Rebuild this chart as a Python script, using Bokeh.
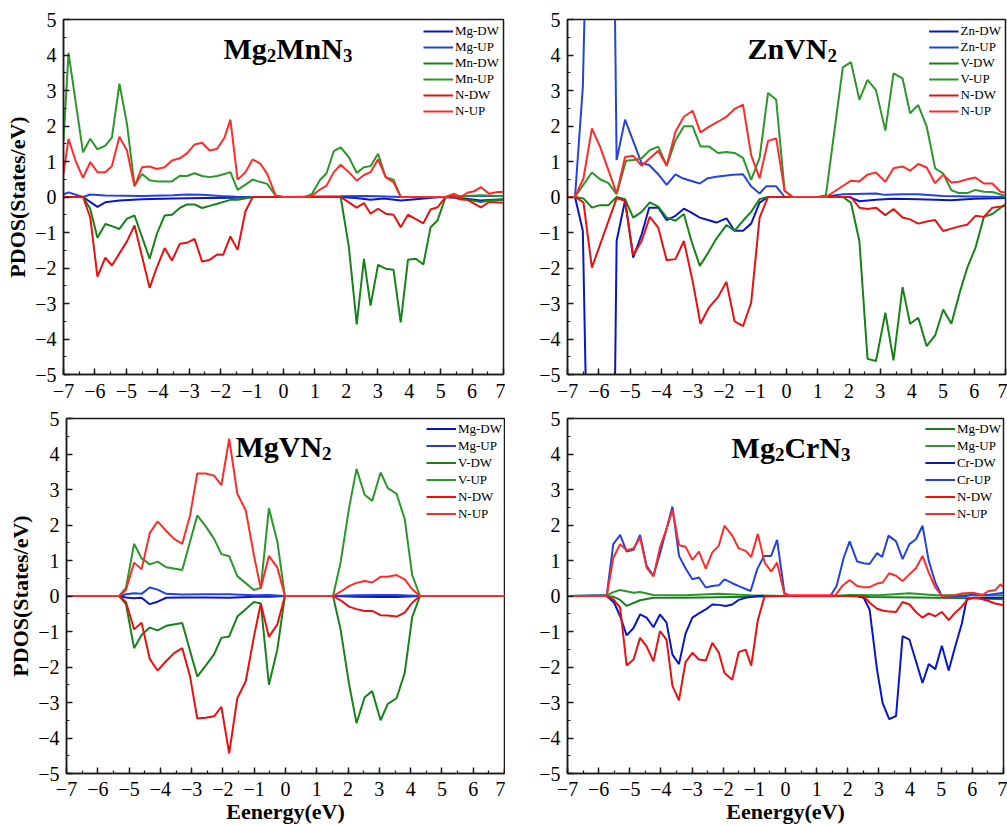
from bokeh.plotting import figure
from bokeh.models import Range1d, SingleIntervalTicker, Label, Legend, LegendItem
from bokeh.layouts import column, row
from bokeh.embed import file_html
from bokeh.resources import INLINE

FONT = "Liberation Serif"

# ---------------- data: (energy eV, PDOS states/eV) ----------------
# Panel 1: Mg2MnN3
mnn_mg_dw = [(-7, 0.0), (-6.38, 0.0), (-5.92, -0.28), (-5.67, -0.15), (-5.22, -0.10), (-4.5, -0.06), (-3.5, -0.04),
             (-2.5, -0.03), (-1.6, -0.02), (-1.0, 0.0), (0, 0), (1.8, 0.0), (2.3, -0.03), (2.77, -0.08), (3.2, -0.04),
             (3.73, -0.10), (4.2, -0.06), (5.0, 0.0), (5.6, -0.03), (6.28, -0.10), (7, -0.06)]
mnn_mg_up = [(-7, 0.07), (-6.84, 0.13), (-6.38, 0.0), (-6.15, 0.07), (-5.67, 0.04), (-4.5, 0.03), (-3.5, 0.05),
             (-3.07, 0.07), (-2.6, 0.06), (-2.0, 0.03), (-1.5, 0.01), (-1.0, 0.0), (0, 0), (1.8, 0.02), (2.56, 0.03),
             (3.0, 0.02), (3.73, 0.0), (5.2, 0.0), (6.0, 0.03), (7, 0.03)]
mnn_mn_dw = [(-7, 0), (-6.38, 0), (-6.15, -0.33), (-5.92, -1.15), (-5.67, -0.76), (-5.46, -0.82), (-5.22, -0.90),
             (-4.98, -0.61), (-4.74, -0.52), (-4.26, -1.74), (-4.03, -1.04), (-3.78, -0.52), (-3.55, -0.50),
             (-3.30, -0.31), (-3.07, -0.21), (-2.83, -0.21), (-2.59, -0.31), (-2.35, -0.25), (-2.11, -0.19),
             (-1.88, -0.13), (-1.69, -0.08), (-1.46, -0.08), (-0.98, 0), (1.82, 0), (2.08, -1.41), (2.33, -3.59),
             (2.56, -1.74), (2.77, -3.06), (3.01, -1.91), (3.25, -2.02), (3.50, -2.05), (3.73, -3.53), (3.96, -1.77),
             (4.21, -1.74), (4.45, -1.90), (4.68, -0.85), (4.90, -0.66), (5.16, 0), (5.43, 0.03), (5.64, -0.05),
             (6.0, -0.10), (6.28, -0.14), (6.54, -0.10), (7, -0.08)]
mnn_mn_up = [(-7, 1.6), (-6.84, 4.06), (-6.38, 1.26), (-6.15, 1.64), (-5.92, 1.34), (-5.67, 1.45), (-5.46, 1.67),
             (-5.22, 3.19), (-4.98, 2.06), (-4.74, 0.32), (-4.50, 0.65), (-4.26, 0.47), (-4.03, 0.44), (-3.55, 0.44),
             (-3.30, 0.60), (-3.07, 0.59), (-2.83, 0.67), (-2.59, 0.59), (-2.35, 0.56), (-2.11, 0.59), (-1.88, 0.65),
             (-1.69, 0.70), (-1.46, 0.20), (-1.21, 0.35), (-0.98, 0.49), (-0.73, 0.42), (-0.52, 0.37), (-0.25, 0.04),
             (0, 0), (0.70, 0), (0.91, 0.09), (1.16, 0.48), (1.37, 0.67), (1.60, 1.29), (1.82, 1.40), (2.08, 1.12),
             (2.33, 0.68), (2.56, 0.84), (2.77, 0.87), (3.01, 1.22), (3.25, 0.56), (3.50, 0.49), (3.73, 0.0),
             (5.16, 0.0), (5.64, 0.02), (6.28, 0.05), (7, 0.02)]
mnn_n_dw = [(-7, 0), (-6.38, 0), (-6.15, -0.57), (-5.92, -2.24), (-5.67, -1.71), (-5.46, -1.93), (-4.98, -1.25),
            (-4.74, -0.80), (-4.26, -2.56), (-4.03, -1.98), (-3.78, -1.44), (-3.55, -1.79), (-3.30, -1.32),
            (-3.07, -1.29), (-2.83, -1.18), (-2.59, -1.82), (-2.35, -1.77), (-2.11, -1.62), (-1.92, -1.63),
            (-1.69, -1.11), (-1.46, -1.49), (-1.21, -0.40), (-0.98, 0), (1.82, 0), (2.08, -0.15), (2.33, -0.30),
            (2.56, -0.17), (2.77, -0.47), (3.01, -0.33), (3.25, -0.47), (3.50, -0.50), (3.73, -0.85), (3.96, -0.50),
            (4.21, -0.62), (4.45, -0.74), (4.68, -0.35), (4.90, -0.29), (5.16, 0), (5.43, 0), (5.64, -0.07),
            (5.85, -0.08), (6.28, -0.29), (6.54, -0.14), (7, -0.16)]
mnn_n_up = [(-7, 0.65), (-6.84, 1.64), (-6.6, 0.98), (-6.38, 0.54), (-6.15, 0.98), (-5.92, 0.70), (-5.67, 0.70),
            (-5.46, 0.87), (-5.22, 1.70), (-4.98, 1.31), (-4.74, 0.30), (-4.50, 0.84), (-4.26, 0.86), (-4.03, 0.79),
            (-3.78, 0.84), (-3.55, 1.03), (-3.30, 1.09), (-3.07, 1.23), (-2.83, 1.48), (-2.59, 1.53), (-2.35, 1.31),
            (-2.11, 1.36), (-1.88, 1.67), (-1.69, 2.18), (-1.46, 0.49), (-1.21, 0.70), (-0.98, 1.06), (-0.73, 0.93),
            (-0.52, 0.65), (-0.25, 0.04), (0, 0), (0.70, 0), (0.91, 0.04), (1.16, 0.21), (1.37, 0.32), (1.60, 0.70),
            (1.82, 0.91), (2.08, 0.70), (2.33, 0.46), (2.56, 0.62), (2.77, 0.70), (3.01, 1.06), (3.25, 0.56),
            (3.50, 0.42), (3.73, 0), (5.16, 0), (5.43, 0.09), (5.64, 0), (5.85, 0.12), (6.07, 0.16), (6.28, 0.28),
            (6.54, 0.09), (6.81, 0.14), (7, 0.14)]

# Panel 2: ZnVN2
zvn_zn_dw = [(-7, 0), (-6.76, 0), (-6.51, -0.95), (-6.27, -12), (-6.02, -17), (-5.67, -20), (-5.43, -1.24),
             (-5.16, -0.10), (-4.90, -1.71), (-4.63, -1.05), (-4.39, -0.30), (-4.10, -0.30), (-3.83, -0.65),
             (-3.55, -0.53), (-3.28, -0.33), (-3.04, -0.44), (-2.77, -0.58), (-2.51, -0.65), (-2.24, -0.72),
             (-1.92, -0.60), (-1.66, -0.95), (-1.39, -0.95), (-1.13, -0.75), (-0.86, -0.16), (-0.59, 0), (2.0, 0),
             (2.33, -0.12), (2.86, -0.08), (3.42, -0.05), (4.21, -0.06), (5.27, -0.09), (6.0, -0.05), (7, -0.03)]
zvn_zn_up = [(-7, 0), (-6.76, 0), (-6.51, 3.1), (-6.27, 12), (-6.02, 17), (-5.67, 20), (-5.43, 1.04), (-5.16, 2.18),
             (-4.63, 0.95), (-4.39, 0.90), (-4.10, 0.64), (-3.83, 0.34), (-3.55, 0.64), (-3.30, 0.52), (-2.77, 0.38),
             (-2.51, 0.53), (-2.24, 0.57), (-1.71, 0.63), (-1.39, 0.64), (-1.13, 0.30), (-0.86, 0.10), (-0.65, 0.30),
             (-0.33, 0.30), (-0.06, 0), (1.16, 0), (1.8, 0.08), (2.86, 0.10), (3.16, 0.06), (3.71, 0.08), (4.21, 0.08),
             (5.0, 0.03), (7, 0.0)]
zvn_v_dw = [(-7, 0), (-6.76, 0), (-6.49, -0.04), (-6.22, -0.30), (-5.96, -0.23), (-5.69, -0.23), (-5.43, 0),
            (-5.16, -0.06), (-4.90, -0.58), (-4.63, -0.42), (-4.37, -0.15), (-4.10, -0.27), (-3.83, -0.58),
            (-3.55, -0.67), (-3.28, -0.48), (-3.04, -1.24), (-2.77, -1.94), (-2.51, -1.58), (-2.24, -1.17),
            (-1.92, -0.79), (-1.66, -0.95), (-1.39, -0.67), (-1.13, -0.42), (-0.86, -0.06), (-0.59, 0), (1.80, 0),
            (2.06, -0.16), (2.33, -1.24), (2.59, -4.56), (2.86, -4.62), (3.16, -3.26), (3.42, -4.60), (3.71, -2.54),
            (3.95, -3.57), (4.21, -3.40), (4.48, -4.20), (4.75, -3.90), (5.01, -3.17), (5.27, -3.57), (5.55, -2.65),
            (5.78, -1.99), (6.04, -1.43), (6.31, -0.56), (6.58, -0.48), (7, -0.20)]
zvn_v_up = [(-7, 0), (-6.76, 0), (-6.22, 0.69), (-5.96, 0.50), (-5.69, 0.39), (-5.43, 0.08), (-5.13, 1.02),
            (-4.90, 1.04), (-4.63, 1.09), (-4.37, 1.32), (-4.10, 1.42), (-3.83, 0.88), (-3.55, 1.59), (-3.28, 1.99),
            (-3.00, 1.99), (-2.75, 1.42), (-2.47, 1.42), (-2.19, 1.24), (-1.92, 1.27), (-1.66, 1.24), (-1.39, 1.10),
            (-1.13, 0.48), (-0.86, 1.10), (-0.59, 2.93), (-0.33, 2.74), (-0.06, 0.18), (0.20, 0), (1.00, 0),
            (1.26, 0.05), (1.80, 3.65), (2.06, 3.80), (2.33, 2.74), (2.59, 3.30), (2.86, 3.01), (3.16, 1.87),
            (3.42, 3.48), (3.71, 3.34), (3.95, 2.36), (4.21, 2.59), (4.48, 1.99), (4.75, 0.81), (5.01, 0.66),
            (5.27, 0.19), (5.51, 0.11), (5.78, 0.11), (6.04, 0.20), (6.31, 0.15), (6.58, 0.14), (7, 0.03)]
zvn_n_dw = [(-7, 0), (-6.76, 0), (-6.49, -0.15), (-6.22, -1.99), (-5.43, -0.03), (-5.16, -0.11), (-4.90, -1.64),
            (-4.63, -1.24), (-4.37, -0.56), (-4.10, -0.86), (-3.83, -1.78), (-3.55, -1.75), (-3.28, -1.24),
            (-3.00, -2.37), (-2.75, -3.57), (-2.47, -3.10), (-2.19, -2.82), (-1.92, -2.39), (-1.66, -3.50),
            (-1.39, -3.64), (-1.13, -2.98), (-0.86, -0.58), (-0.59, 0), (2.06, 0), (2.33, -0.30), (2.59, -0.34),
            (2.86, -0.30), (3.16, -0.51), (3.42, -0.34), (3.71, -0.58), (3.95, -0.63), (4.21, -0.75), (4.48, -0.69),
            (4.75, -0.65), (5.01, -0.96), (5.27, -0.89), (5.55, -0.82), (5.78, -0.78), (6.04, -0.53), (6.31, -0.56),
            (6.58, -0.30), (7, -0.25)]
zvn_n_up = [(-7, 0), (-6.76, 0), (-6.49, 0.52), (-6.22, 1.93), (-5.96, 1.42), (-5.43, 0.10), (-5.16, 1.13),
            (-4.90, 1.16), (-4.63, 0.88), (-4.37, 1.09), (-4.10, 1.30), (-3.83, 0.88), (-3.55, 1.84), (-3.28, 2.26),
            (-3.00, 2.43), (-2.75, 1.82), (-2.47, 1.98), (-2.19, 2.12), (-1.92, 2.26), (-1.66, 2.48), (-1.39, 2.60),
            (-1.13, 1.18), (-0.86, 0.53), (-0.59, 1.58), (-0.33, 1.65), (-0.06, 0.17), (0.20, 0), (1.26, 0),
            (1.80, 0.31), (2.06, 0.46), (2.33, 0.44), (2.59, 0.63), (2.86, 0.69), (3.16, 0.43), (3.42, 0.81),
            (3.71, 0.86), (3.95, 0.74), (4.21, 0.93), (4.48, 0.83), (4.75, 0.39), (5.01, 0.63), (5.27, 0.41),
            (5.51, 0.43), (5.78, 0.50), (6.04, 0.55), (6.31, 0.38), (6.58, 0.38), (6.84, 0.15), (7, 0.13)]

# Panel 3: MgVN2
mvn_mg_dw = [(-7, 0), (-5.32, 0), (-5.10, -0.04), (-4.84, -0.06), (-4.60, -0.05), (-4.34, -0.23), (-4.09, -0.16),
             (-3.81, -0.05), (-3.30, -0.04), (-2.55, -0.04), (-1.80, -0.05), (-1.01, -0.02), (-0.53, -0.02),
             (-0.02, 0), (1.52, 0), (2.27, -0.02), (3.04, -0.03), (3.55, -0.03), (4.30, 0), (7, 0)]
mvn_mg_up = [(-7, 0), (-5.32, 0), (-5.10, 0.05), (-4.84, 0.08), (-4.60, 0.06), (-4.34, 0.24), (-4.09, 0.18),
             (-3.81, 0.06), (-3.30, 0.04), (-2.55, 0.05), (-1.80, 0.05), (-1.01, 0.02), (-0.53, 0.03), (-0.02, 0),
             (1.52, 0), (2.27, 0.02), (3.04, 0.03), (3.55, 0.03), (4.30, 0), (7, 0)]
mvn_v_dw = [(-7, 0), (-5.32, 0), (-5.10, -0.23), (-4.84, -1.47), (-4.60, -1.10), (-4.34, -0.89), (-4.09, -0.97),
            (-3.81, -0.84), (-3.30, -0.76), (-2.82, -2.27), (-2.55, -1.96), (-2.28, -1.64), (-2.05, -1.18),
            (-1.80, -1.14), (-1.54, -0.58), (-1.01, -0.17), (-0.79, -0.21), (-0.53, -2.50), (-0.26, -1.50),
            (-0.02, 0), (1.52, 0), (1.76, -0.94), (2.03, -2.47), (2.27, -3.58), (2.53, -2.85), (2.77, -2.68),
            (3.04, -3.50), (3.27, -3.04), (3.55, -2.88), (3.81, -2.17), (4.05, -0.59), (4.30, 0), (7, 0)]
mvn_v_up = [(-7, 0), (-5.32, 0), (-5.10, 0.23), (-4.84, 1.47), (-4.60, 1.06), (-4.34, 0.89), (-4.09, 0.97),
            (-3.81, 0.81), (-3.30, 0.73), (-2.82, 2.27), (-2.55, 1.96), (-2.28, 1.61), (-2.05, 1.18), (-1.80, 1.12),
            (-1.54, 0.56), (-1.01, 0.17), (-0.79, 0.23), (-0.53, 2.47), (-0.26, 1.53), (-0.02, 0), (1.52, 0),
            (1.76, 0.94), (2.03, 2.47), (2.27, 3.58), (2.53, 2.85), (2.77, 2.68), (3.04, 3.48), (3.27, 3.04),
            (3.55, 2.88), (3.81, 2.17), (4.05, 0.59), (4.30, 0), (7, 0)]
mvn_n_dw = [(-7, 0), (-5.32, 0), (-5.10, -0.17), (-4.84, -0.94), (-4.60, -0.75), (-4.34, -1.77), (-4.09, -2.10),
            (-3.81, -1.83), (-3.56, -1.61), (-3.30, -1.47), (-3.05, -2.27), (-2.82, -3.45), (-2.55, -3.43),
            (-2.28, -3.39), (-2.05, -3.12), (-1.80, -4.43), (-1.54, -2.88), (-1.27, -2.40), (-1.01, -1.15),
            (-0.79, -0.21), (-0.53, -1.15), (-0.26, -0.80), (-0.02, 0), (1.52, 0), (1.76, -0.12), (2.03, -0.30),
            (2.27, -0.37), (2.53, -0.42), (2.77, -0.42), (3.04, -0.54), (3.27, -0.55), (3.55, -0.58), (3.81, -0.47),
            (4.05, -0.19), (4.30, 0), (7, 0)]
mvn_n_up = [(-7, 0), (-5.32, 0), (-5.10, 0.17), (-4.84, 0.94), (-4.60, 0.75), (-4.34, 1.77), (-4.09, 2.10),
            (-3.81, 1.83), (-3.56, 1.61), (-3.30, 1.47), (-3.05, 2.27), (-2.82, 3.45), (-2.55, 3.45), (-2.28, 3.39),
            (-2.05, 3.12), (-1.80, 4.43), (-1.54, 2.88), (-1.27, 2.41), (-1.01, 1.15), (-0.79, 0.21), (-0.53, 1.13),
            (-0.26, 0.80), (-0.02, 0), (1.52, 0), (1.76, 0.12), (2.03, 0.28), (2.27, 0.37), (2.53, 0.42),
            (2.77, 0.38), (3.04, 0.54), (3.27, 0.54), (3.55, 0.59), (3.81, 0.47), (4.05, 0.19), (4.30, 0), (7, 0)]

# Panel 4: Mg2CrN3
mcn_mg_dw = [(-7, 0), (-5.74, 0), (-5.53, -0.02), (-5.31, -0.11), (-5.10, -0.28), (-4.67, -0.12), (-4.24, -0.05),
             (-3.21, -0.05), (-1.10, -0.02), (-0.03, 0), (2.0, 0), (2.70, -0.03), (4.83, -0.05), (6.0, -0.06),
             (7, -0.09)]
mcn_mg_up = [(-7, 0), (-5.74, 0.02), (-5.53, 0.11), (-5.31, 0.17), (-4.88, 0.09), (-4.67, 0.11), (-4.24, 0.03),
             (-3.21, 0.02), (-2.14, 0.06), (-1.10, 0.02), (-0.03, 0), (1.5, 0), (2.06, 0.03), (3.0, 0.02),
             (3.98, 0.08), (4.83, 0.02), (6.0, 0.02), (7, 0.02)]
mcn_cr_dw = [(-7, 0), (-5.74, 0), (-5.50, -0.19), (-5.31, -0.57), (-5.10, -1.11), (-4.88, -0.90), (-4.67, -0.52),
             (-4.46, -0.61), (-4.24, -0.88), (-4.03, -0.52), (-3.82, -0.75), (-3.63, -1.65), (-3.42, -1.92),
             (-3.21, -1.06), (-2.99, -0.61), (-2.78, -0.49), (-2.56, -0.38), (-2.35, -0.24), (-2.14, -0.25),
             (-1.92, -0.28), (-1.71, -0.24), (-1.50, -0.11), (-1.28, -0.05), (-0.91, 0), (2.30, 0), (2.51, -0.05),
             (2.70, -0.38), (2.94, -2.08), (3.12, -3.02), (3.33, -3.47), (3.55, -3.38), (3.76, -1.13), (3.98, -1.23),
             (4.19, -1.84), (4.40, -2.45), (4.60, -1.92), (4.81, -2.06), (5.02, -1.40), (5.24, -2.10), (5.45, -1.42),
             (5.66, -0.78), (5.82, -0.09), (6.04, -0.05), (7, -0.05)]
mcn_cr_up = [(-7, 0), (-5.74, 0.02), (-5.53, 1.46), (-5.31, 1.72), (-5.10, 1.25), (-4.88, 1.30), (-4.67, 1.72),
             (-4.46, 0.85), (-4.24, 0.57), (-4.03, 1.20), (-3.63, 2.52), (-3.42, 1.13), (-3.21, 0.78), (-2.99, 0.47),
             (-2.78, 0.52), (-2.56, 0.24), (-2.35, 0.28), (-2.14, 0.30), (-1.96, 0.47), (-1.71, 0.36), (-1.50, 0.28),
             (-1.12, 0.14), (-0.91, 0.75), (-0.69, 1.13), (-0.46, 1.13), (-0.27, 1.58), (-0.03, 0.07), (0.16, 0),
             (1.44, 0), (1.64, 0.28), (1.87, 1.08), (2.06, 1.54), (2.30, 0.97), (2.51, 0.92), (2.70, 0.90),
             (2.94, 1.21), (3.10, 1.10), (3.31, 1.70), (3.55, 1.54), (3.76, 1.04), (3.98, 1.46), (4.19, 1.60),
             (4.40, 1.98), (4.60, 0.99), (4.81, 0.38), (5.02, 0), (5.8, 0.0), (6.04, 0.05), (6.5, 0.03), (7, 0.09)]
mcn_n_dw = [(-7, 0), (-5.74, 0), (-5.53, -0.09), (-5.31, -0.33), (-5.10, -1.96), (-4.88, -1.79), (-4.67, -1.18),
            (-4.46, -1.42), (-4.24, -1.84), (-4.03, -0.99), (-3.82, -1.23), (-3.63, -2.53), (-3.42, -2.94),
            (-3.21, -1.86), (-2.99, -1.60), (-2.78, -1.79), (-2.56, -1.82), (-2.35, -1.32), (-2.14, -1.60),
            (-1.96, -2.17), (-1.71, -2.36), (-1.50, -1.58), (-1.28, -1.51), (-1.10, -1.96), (-0.89, -0.69),
            (-0.67, 0), (2.51, 0), (2.70, -0.19), (2.94, -0.36), (3.12, -0.41), (3.33, -0.44), (3.55, -0.45),
            (3.76, -0.17), (3.98, -0.24), (4.19, -0.45), (4.40, -0.61), (4.60, -0.49), (4.81, -0.57), (5.02, -0.45),
            (5.24, -0.68), (5.45, -0.47), (5.66, -0.30), (5.88, -0.07), (6.15, -0.05), (6.52, -0.14), (6.73, -0.21),
            (7, -0.26)]
mcn_n_up = [(-7, 0), (-5.74, 0), (-5.53, 1.07), (-5.31, 1.46), (-5.10, 1.29), (-4.88, 1.34), (-4.67, 1.65),
            (-4.46, 0.80), (-4.24, 0.55), (-4.03, 1.37), (-3.82, 1.89), (-3.63, 2.43), (-3.42, 1.43), (-3.21, 1.39),
            (-2.99, 1.02), (-2.78, 1.25), (-2.56, 0.77), (-2.35, 1.23), (-2.14, 1.42), (-1.96, 1.98), (-1.71, 1.70),
            (-1.50, 1.34), (-1.28, 1.27), (-1.10, 1.10), (-0.89, 1.75), (-0.67, 0.94), (-0.46, 0.69), (-0.27, 0.94),
            (-0.03, 0.03), (1.60, 0.02), (1.82, 0.28), (2.06, 0.45), (2.30, 0.28), (2.51, 0.25), (2.70, 0.25),
            (2.94, 0.35), (3.12, 0.38), (3.33, 0.64), (3.55, 0.57), (3.76, 0.42), (3.98, 0.61), (4.19, 0.78),
            (4.40, 1.13), (4.60, 0.66), (4.81, 0.24), (5.02, 0), (5.45, 0.02), (5.66, 0.07), (6.04, 0.09),
            (6.31, 0.02), (6.52, 0.14), (6.73, 0.16), (6.90, 0.33), (7, 0.24)]

labels_mnn = ["Mg-DW", "Mg-UP", "Mn-DW", "Mn-UP", "N-DW", "N-UP"]
labels_zvn = ["Zn-DW", "Zn-UP", "V-DW", "V-UP", "N-DW", "N-UP"]
labels_mvn = ["Mg-DW", "Mg-UP", "V-DW", "V-UP", "N-DW", "N-UP"]
labels_mcn = ["Mg-DW", "Mg-UP", "Cr-DW", "Cr-UP", "N-DW", "N-UP"]

# ---------------- styling ----------------
BLUE_DW, BLUE_UP = "#0a16c6", "#2442de"
GREEN_DW, GREEN_UP = "#15831a", "#2b962b"
RED_DW, RED_UP = "#e81010", "#ff2b2b"
COLS_BGR = [BLUE_DW, BLUE_UP, GREEN_DW, GREEN_UP, RED_DW, RED_UP]
COLS_GBR = [GREEN_DW, GREEN_UP, BLUE_DW, BLUE_UP, RED_DW, RED_UP]

# approximate advance widths (em) for Times-like bold face, used to place subscripts
ADV = {"M": 0.943, "g": 0.5, "n": 0.556, "N": 0.722, "V": 0.722, "Z": 0.667, "C": 0.722, "r": 0.444,
       "2": 0.5, "3": 0.5}
BIG, SMALL = 30, 19


def add_title(p, parts, x0, y0):
    off = 0.0
    for txt, sub in parts:
        size = SMALL if sub else BIG
        p.add_layout(Label(x=x0, y=y0, x_offset=off, y_offset=-7 if sub else 0, text=txt,
                           text_font=FONT, text_font_style="bold", text_font_size=f"{size}px",
                           text_color="black", text_baseline="alphabetic", text_align="left"))
        off += sum(ADV.get(c, 0.6) for c in txt) * size


def panel(series, labels, colors, parts, tx, ty, frame_w, borders, xlabel, ylabel, leg_margin, leg_row):
    l, r, t, b = borders
    p = figure(frame_width=frame_w, frame_height=355, x_range=Range1d(-7, 7), y_range=Range1d(-5, 5),
               output_backend="svg", toolbar_location=None,
               min_border_left=l, min_border_right=r, min_border_top=t, min_border_bottom=b,
               background_fill_color="white", border_fill_color="white")
    p.grid.visible = False
    p.outline_line_color = "#1a1a1a"
    p.outline_line_width = 1.5
    p.xaxis.ticker = SingleIntervalTicker(interval=1, num_minor_ticks=2)
    p.yaxis.ticker = SingleIntervalTicker(interval=1, num_minor_ticks=2)
    for ax in (p.xaxis[0], p.yaxis[0]):
        ax.axis_line_width = 1.5
        ax.axis_line_color = "#1a1a1a"
        ax.major_tick_in = 6
        ax.major_tick_out = 0
        ax.minor_tick_in = 3
        ax.minor_tick_out = 0
        ax.major_tick_line_width = 1.5
        ax.minor_tick_line_width = 1.2
        ax.major_tick_line_color = "#1a1a1a"
        ax.minor_tick_line_color = "#1a1a1a"
        ax.major_label_text_font = FONT
        ax.major_label_text_font_size = "20px"
        ax.major_label_text_color = "black"
        ax.axis_label_text_font = FONT
        ax.axis_label_text_font_style = "bold"
        ax.axis_label_text_color = "black"
    p.xaxis.major_label_standoff = 8 if xlabel else 9
    p.yaxis.major_label_standoff = 7
    if xlabel:
        p.xaxis.axis_label = xlabel
        p.xaxis.axis_label_text_font_size = "22px"
        p.xaxis.axis_label_standoff = 0
    if ylabel:
        p.yaxis.axis_label = ylabel
        p.yaxis.axis_label_text_font_size = "22px"
        p.yaxis.axis_label_standoff = 2

    items = []
    for pts, lab, col in zip(series, labels, colors):
        xs = [q[0] for q in pts]
        ys = [q[1] for q in pts]
        rr = p.line(xs, ys, line_color=col, line_width=2)
        items.append(LegendItem(label=lab, renderers=[rr]))
    leg = Legend(items=items, location="top_right", margin=leg_margin, padding=2, spacing=0,
                 glyph_width=30, glyph_height=leg_row, label_height=leg_row, label_standoff=2,
                 label_text_font=FONT, label_text_font_size="13px", label_text_color="black",
                 border_line_alpha=0, background_fill_alpha=0)
    p.add_layout(leg)
    add_title(p, parts, tx, ty)
    return p


p1 = panel([mnn_mg_dw, mnn_mg_up, mnn_mn_dw, mnn_mn_up, mnn_n_dw, mnn_n_up], labels_mnn, COLS_BGR,
           [("Mg", False), ("2", True), ("MnN", False), ("3", True)], -1.91, 4.18,
           440, (63, 2, 19, 34), None, "PDOS(States/eV)", 2, 16)
p2 = panel([zvn_zn_dw, zvn_zn_up, zvn_v_dw, zvn_v_up, zvn_n_dw, zvn_n_up], labels_zvn, COLS_BGR,
           [("ZnVN", False), ("2", True)], -1.25, 4.18,
           438, (62, 2, 19, 34), None, None, 2, 16)
p3 = panel([mvn_mg_dw, mvn_mg_up, mvn_v_dw, mvn_v_up, mvn_n_dw, mvn_n_up], labels_mvn, COLS_BGR,
           [("MgVN", False), ("2", True)], -1.60, 4.21,
           438, (66, 1, 10, 50), "Eenergy(eV)", "PDOS(States/eV)", 0, 17)
p4 = panel([mcn_mg_dw, mcn_mg_up, mcn_cr_dw, mcn_cr_up, mcn_n_dw, mcn_n_up], labels_mcn, COLS_GBR,
           [("Mg", False), ("2", True), ("CrN", False), ("3", True)], -1.73, 4.18,
           436, (62, 4, 10, 50), "Eenergy(eV)", None, 0, 17)

layout = column(row(p1, p2), row(p3, p4))
open("out.html", "w").write(file_html(layout, INLINE))
